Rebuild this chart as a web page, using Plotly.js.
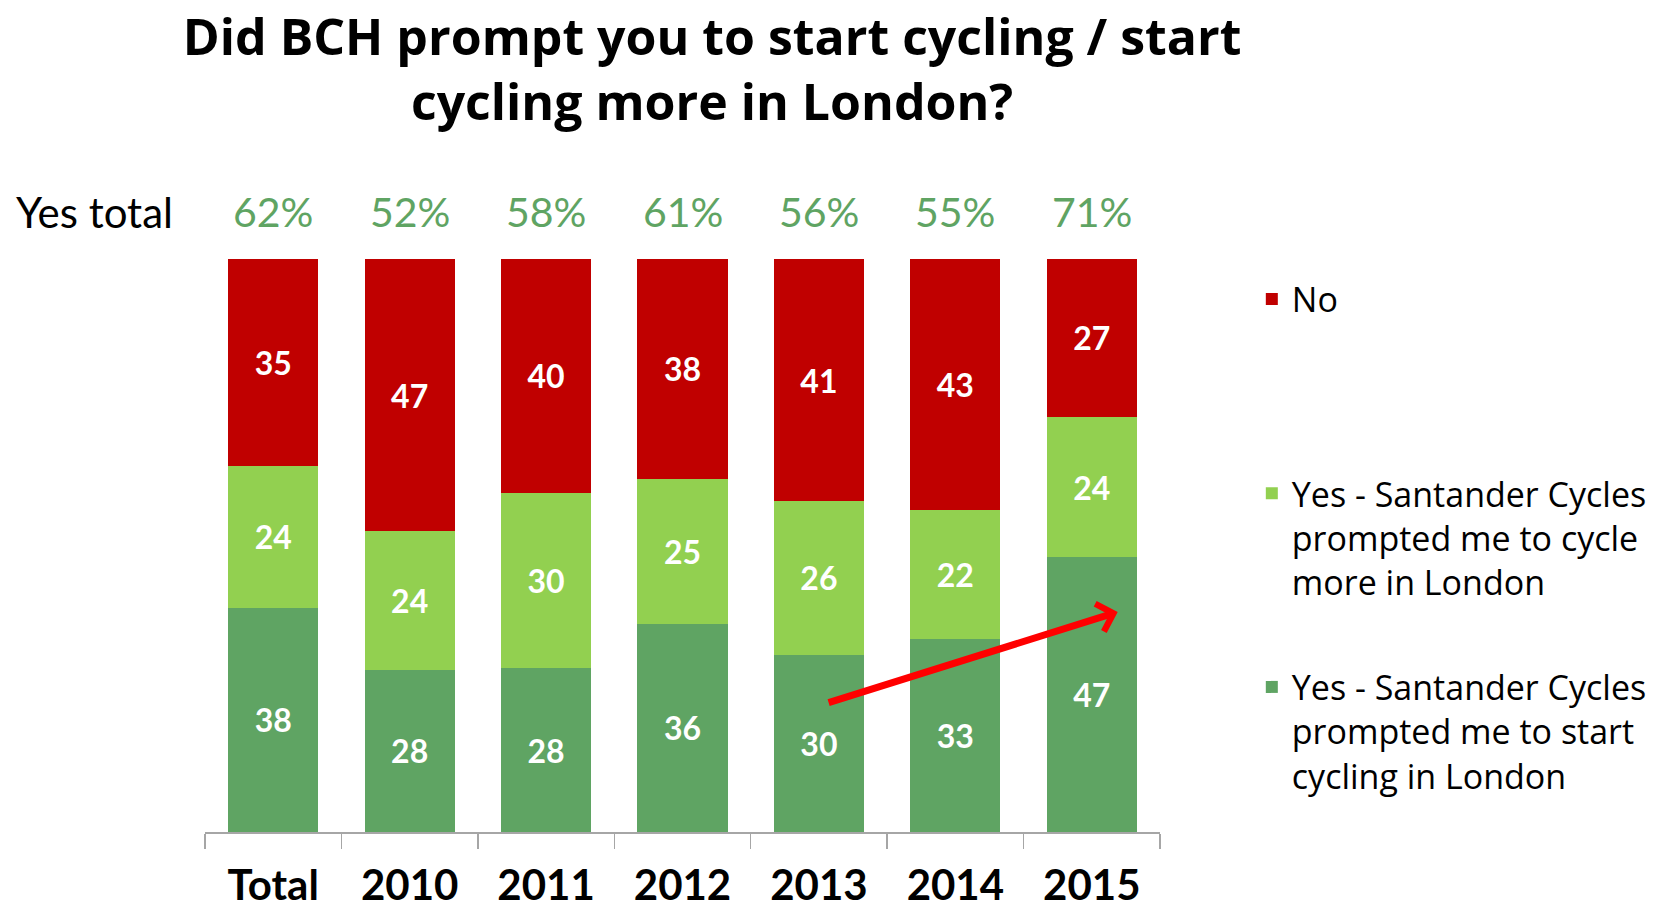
<!DOCTYPE html>
<html>
<head>
<meta charset="utf-8">
<script src="https://cdn.plot.ly/plotly-3.0.1.min.js"></script>
<style>
  body { margin: 0; background: #fff; }
  #chart { width: 1663px; height: 909px; }
</style>
</head>
<body>
<div id="chart"></div>
<script>
// survey data
const categories = ["Total", "2010", "2011", "2012", "2013", "2014", "2015"]
const startCycling = [38, 28, 28, 36, 30, 33, 47]
const cycleMore = [24, 24, 30, 25, 26, 22, 24]
const noValues = [35, 47, 40, 38, 41, 43, 27]
const yesTotals = ["62%", "52%", "58%", "61%", "56%", "55%", "71%"]

const seriesNames = [
    "Yes - Santander Cycles<br>prompted me to start<br>cycling in London",
    "Yes - Santander Cycles<br>prompted me to cycle<br>more in London",
    "No"
]
const seriesColors = ["#5fa463", "#92d050", "#c00000"]

const font = "Lato, 'Open Sans', sans-serif"
const wideFont = "'Open Sans', Lato, sans-serif"

function barTrace (values, i, legendName, rank) {
    return {
        x: categories,
        y: values,
        text: values.map(String),
        name: seriesNames[i],
        type: "bar",
        marker: {color: seriesColors[i]},
        textposition: "inside",
        insidetextanchor: "middle",
        constraintext: "none",
        textangle: 0,
        textfont: {family: font, size: 32, color: "#ffffff", weight: "bold"},
        hoverinfo: "skip",
        legend: legendName,
        legendgroup: "g" + i,
        legendrank: rank
    }
}

let data = [
    barTrace(startCycling, 0, "legend2", 2),
    barTrace(cycleMore, 1, "legend2", 1),
    barTrace(noValues, 2, "legend", 1)
]

let annotations = yesTotals.map(function (t, i) {
    return {
        x: i, xref: "x",
        y: 1.13, yref: "paper",
        text: t, showarrow: false,
        font: {family: font, size: 41, color: "#5fa463"}
    }
})

annotations.push({
    x: -0.2, xref: "paper", xanchor: "left",
    y: 1.13, yref: "paper",
    text: "Yes total", showarrow: false,
    font: {family: font, size: 42, color: "#000000"}
})

// red trend arrow
annotations.push({
    x: 6.19, y: 38.4, xref: "x", yref: "y",
    ax: 4.06, ay: 22.5, axref: "x", ayref: "y",
    text: "", showarrow: true,
    arrowcolor: "#ff0000", arrowwidth: 7, arrowhead: 4, arrowsize: 0.8
})

let layout = {
    width: 1663,
    height: 909,
    barmode: "stack",
    barnorm: "percent",
    bargap: 0.34,
    paper_bgcolor: "#ffffff",
    plot_bgcolor: "#ffffff",
    margin: {l: 205, r: 502, t: 259, b: 77},
    title: {
        text: "Did BCH prompt you to start cycling / start<br>cycling more in London?",
        font: {family: wideFont, size: 50, color: "#000000", weight: "bold"},
        x: 0.531, xref: "paper", xanchor: "center",
        y: 0.94, yref: "container", yanchor: "top"
    },
    xaxis: {
        type: "category",
        range: [-0.5, 6.5],
        showline: true,
        linecolor: "#a6a6a6",
        linewidth: 1.5,
        ticks: "outside",
        tickson: "boundaries",
        ticklen: 15,
        tickcolor: "#a6a6a6",
        tickwidth: 1.5,
        ticklabelstandoff: 16,
        tickfont: {family: font, size: 42, color: "#000000", weight: "bold"},
        showgrid: false,
        fixedrange: true
    },
    yaxis: {
        range: [0, 100],
        visible: false,
        showgrid: false,
        fixedrange: true
    },
    showlegend: true,
    legend: {
        x: 1.095, xanchor: "left",
        y: 0.98, yanchor: "top",
        valign: "top",
        font: {family: wideFont, size: 34, color: "#000000"},
        bgcolor: "rgba(0,0,0,0)"
    },
    legend2: {
        x: 1.095, xanchor: "left",
        y: 0.641, yanchor: "top",
        valign: "top",
        traceorder: "grouped",
        tracegroupgap: 58,
        font: {family: wideFont, size: 34, color: "#000000"},
        bgcolor: "rgba(0,0,0,0)"
    },
    annotations: annotations
}

Plotly.newPlot("chart", data, layout, {displayModeBar: false, staticPlot: true})
</script>
</body>
</html>
